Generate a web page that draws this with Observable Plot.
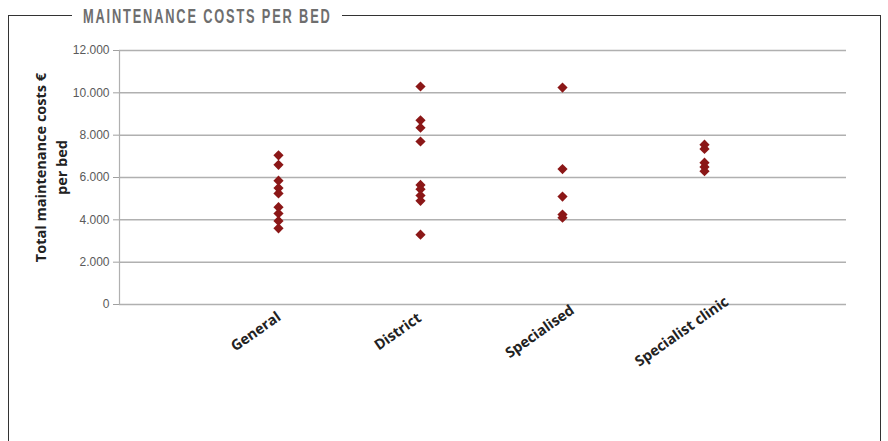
<!DOCTYPE html>
<html>
<head>
<meta charset="utf-8">
<script src="https://cdn.jsdelivr.net/npm/d3@7"></script>
<script src="https://cdn.jsdelivr.net/npm/@observablehq/plot@0.6"></script>
<style>
  html, body { margin: 0; padding: 0; background: #fff; }
  #wrap { position: relative; width: 888px; height: 441px; overflow: hidden; }
  #box { position: absolute; left: 8px; top: 15px; width: 871px; height: 440px;
         border-left: 1px solid #333; border-top: 1px solid #333; border-right: 1px solid #333; }
  #title { position: absolute; left: 72px; top: 2px; width: 270px; height: 26px; background: #fff; }
  #title span { position: absolute; left: 11px; top: 0; display: inline-block;
           font-family: "Liberation Sans", Arial, sans-serif; font-weight: bold; font-size: 21px;
           letter-spacing: 3px; color: #6e6e6e; line-height: 27px; white-space: nowrap;
           transform: scaleX(0.61); transform-origin: 0 50%; }
  #chart { position: absolute; left: 0; top: 0; }
</style>
</head>
<body>
<div id="wrap">
  <div id="box"></div>
  <div id="title"><span>MAINTENANCE COSTS PER BED</span></div>
  <div id="chart"></div>
</div>
<script>
const categories = ["General", "District", "Specialised", "Specialist clinic"];
const general = [7050, 6600, 5850, 5500, 5250, 4600, 4300, 3950, 3600];
const district = [10300, 8700, 8350, 7700, 5650, 5450, 5150, 4900, 3300];
const specialised = [10250, 6400, 5100, 4250, 4100];
const specialistClinic = [7550, 7350, 6700, 6500, 6300];
const yTicks = [0, 2000, 4000, 6000, 8000, 10000, 12000];
const yLabel = "Total maintenance costs €\nper bed";

const series = [general, district, specialised, specialistClinic];
const points = series.flatMap((vals, i) => vals.map(v => ({category: categories[i], value: v})));

const fmt = d => d3.format(",")(d).replace(/,/g, ".");

const chart = Plot.plot({
  width: 888,
  height: 441,
  marginTop: 50,
  marginBottom: 137,
  marginLeft: 119,
  marginRight: 42,
  x: {type: "point", domain: categories, padding: 1, insetLeft: 16, axis: null},
  y: {domain: [0, 12000], axis: null},
  marks: [
    Plot.ruleY(yTicks, {stroke: "#b0b0b0", strokeWidth: 1.5}),
    Plot.frame({anchor: "left", stroke: "#b0b0b0", strokeWidth: 1.2}),
    Plot.axisY({ticks: yTicks, tickSize: 6, tickPadding: 4, stroke: "#a0a0a0", fill: "#5a5a5a",
      label: null, tickFormat: fmt, fontSize: 12, fontFamily: "Liberation Sans, Arial, sans-serif"}),
    Plot.dot(points, {x: "category", y: "value", symbol: "diamond2", r: 4.6, fill: "#8b1717", stroke: "none"}),
    Plot.text(categories, {x: d => d, frameAnchor: "bottom", rotate: -35, textAnchor: "middle",
      dx: -20, dy: 31, fontSize: 14.5, fontWeight: "bold", fill: "#222",
      fontFamily: "Open Sans, sans-serif"}),
    Plot.text([yLabel], {frameAnchor: "left", rotate: -90, textAnchor: "middle", lineAnchor: "middle",
      dx: -70, dy: -10, lineHeight: 1.45, fontSize: 14.5, fontWeight: "bold", fill: "#222",
      fontFamily: "Open Sans, sans-serif"})
  ]
});
document.getElementById("chart").appendChild(chart);
</script>
</body>
</html>
